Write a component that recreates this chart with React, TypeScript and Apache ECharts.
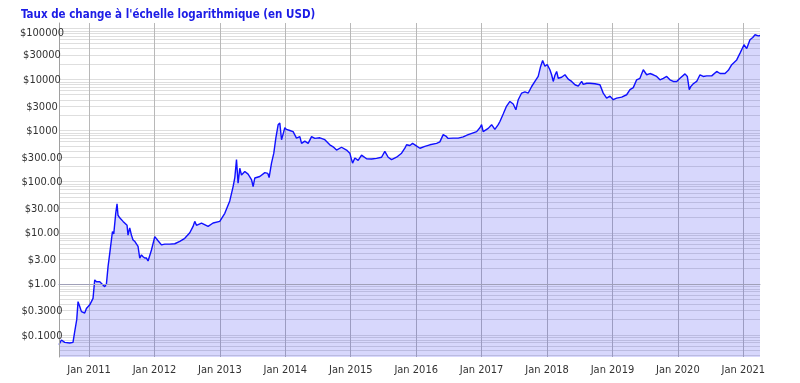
import React, { useEffect, useRef } from "react";
import * as echarts from "echarts";

// Dates as decimal years, prices in USD
const years = [
  2010.541, 2010.552, 2010.578, 2010.628, 2010.705, 2010.755, 2010.781, 2010.812, 2010.832, 2010.858,
  2010.884, 2010.934, 2010.960, 2011.011, 2011.061, 2011.087, 2011.113, 2011.164, 2011.240, 2011.266,
  2011.291, 2011.317, 2011.358, 2011.378, 2011.408, 2011.428, 2011.443, 2011.469, 2011.520, 2011.581,
  2011.596, 2011.622, 2011.648, 2011.673, 2011.699, 2011.749, 2011.775, 2011.801, 2011.826, 2011.852,
  2011.878, 2011.902, 2011.954, 2012.005, 2012.055, 2012.107, 2012.158, 2012.234, 2012.310, 2012.387,
  2012.463, 2012.540, 2012.590, 2012.616, 2012.642, 2012.719, 2012.820, 2012.896, 2012.998, 2013.075,
  2013.151, 2013.202, 2013.228, 2013.254, 2013.278, 2013.304, 2013.330, 2013.381, 2013.431, 2013.483,
  2013.508, 2013.534, 2013.610, 2013.687, 2013.732, 2013.752, 2013.789, 2013.824, 2013.855, 2013.890,
  2013.916, 2013.942, 2013.966, 2013.992, 2014.018, 2014.069, 2014.119, 2014.171, 2014.222, 2014.248,
  2014.298, 2014.349, 2014.401, 2014.451, 2014.528, 2014.604, 2014.680, 2014.731, 2014.783, 2014.859,
  2014.936, 2014.986, 2015.012, 2015.028, 2015.063, 2015.113, 2015.165, 2015.242, 2015.318, 2015.394,
  2015.471, 2015.521, 2015.572, 2015.624, 2015.700, 2015.777, 2015.827, 2015.853, 2015.904, 2015.945,
  2015.980, 2016.057, 2016.133, 2016.209, 2016.312, 2016.362, 2016.413, 2016.454, 2016.489, 2016.566,
  2016.642, 2016.719, 2016.795, 2016.872, 2016.924, 2016.974, 2017.000, 2017.024, 2017.101, 2017.153,
  2017.203, 2017.254, 2017.280, 2017.330, 2017.382, 2017.433, 2017.483, 2017.524, 2017.560, 2017.612,
  2017.662, 2017.713, 2017.765, 2017.815, 2017.865, 2017.902, 2017.933, 2017.968, 2018.003, 2018.044,
  2018.070, 2018.095, 2018.121, 2018.147, 2018.171, 2018.223, 2018.274, 2018.324, 2018.376, 2018.427,
  2018.477, 2018.529, 2018.554, 2018.606, 2018.656, 2018.732, 2018.809, 2018.859, 2018.911, 2018.962,
  2019.012, 2019.064, 2019.141, 2019.217, 2019.268, 2019.318, 2019.370, 2019.420, 2019.471, 2019.523,
  2019.573, 2019.624, 2019.676, 2019.726, 2019.777, 2019.829, 2019.879, 2019.930, 2019.982, 2020.032,
  2020.109, 2020.144, 2020.174, 2020.196, 2020.235, 2020.287, 2020.338, 2020.388, 2020.440, 2020.517,
  2020.593, 2020.644, 2020.720, 2020.771, 2020.823, 2020.899, 2020.950, 2021.011, 2021.052, 2021.102,
  2021.144, 2021.179, 2021.229, 2021.255,
];

const prices = [
  0.065, 0.069, 0.080, 0.072, 0.070, 0.072, 0.117, 0.2, 0.45, 0.36,
  0.287, 0.27, 0.33, 0.39, 0.52, 1.2, 1.1, 1.1, 0.88, 1.0,
  2.2, 4, 10.6, 9.5, 24, 36.8, 22, 19.6, 16.7, 14,
  9, 12.5, 9, 7.2, 6.8, 5.4, 3.2, 3.7, 3.4, 3.2,
  3.2, 2.8, 4.6, 8.4, 7.0, 5.8, 6.0, 6.0, 6.1, 6.8,
  7.8, 10, 13.3, 16.7, 14.0, 15.5, 13.3, 15.5, 16.7, 24,
  42, 80, 120, 270, 93, 183, 135, 158, 140, 110,
  80, 118, 126, 150, 145, 120, 231, 360, 710, 1290,
  1400, 660, 850, 1130, 1050, 1000, 950, 710, 760, 560,
  620, 560, 760, 700, 720, 660, 525, 480, 415, 470,
  415, 360, 270, 230, 290, 260, 330, 280, 277, 285,
  300, 390, 300, 270, 300, 360, 450, 525, 510, 560,
  525, 450, 490, 525, 560, 600, 830, 780, 700, 710,
  710, 750, 830, 900, 950, 1130, 1300, 950, 1100, 1300,
  1050, 1300, 1500, 2100, 3000, 3700, 3300, 2540, 4000, 5400,
  5700, 5400, 7250, 9100, 11400, 17900, 23400, 18000, 19500, 15400,
  12300, 9100, 12000, 14300, 10500, 11000, 12300, 10100, 9100, 7850,
  7400, 9100, 8000, 8400, 8400, 8200, 7850, 5380, 4300, 4700,
  4000, 4300, 4500, 5000, 6300, 6900, 9800, 10500, 15400, 12300,
  13000, 12300, 11400, 9800, 10500, 11400, 9800, 9100, 9100, 10500,
  12800, 11400, 6300, 7200, 8200, 9100, 12300, 11400, 11700, 11700,
  14300, 13000, 13000, 15000, 19400, 24000, 32600, 47500, 40000, 59600,
  66000, 74500, 71000, 72000,
];

const yTickPrices = [0.1, 0.3, 1, 3, 10, 30, 100, 300, 1000, 3000, 10000, 30000, 100000];
const xTickYears = [2011, 2012, 2013, 2014, 2015, 2016, 2017, 2018, 2019, 2020, 2021];
const gridMultiples = [1, 2, 3, 4, 5, 6, 7, 8, 9];
const gridDecades = [-2, -1, 0, 1, 2, 3, 4, 5];

const TITLE = "Taux de change à l'échelle logarithmique (en USD)";
const FONT = "'DejaVu Sans Condensed', 'Liberation Sans', sans-serif";

const Y_MIN = Math.log10(0.0372);
const Y_MAX = Math.log10(126500);
const X_MIN = 2010.541;
const X_MAX = 2021.255;

function fmtPrice(v: number): string {
  const p = Math.pow(10, v);
  if (p >= 99999) return "{top|$" + Math.round(p) + "}";
  if (p >= 999) return "$" + Math.round(p);
  if (p >= 0.999) return "$" + (Math.round(p * 100) / 100).toFixed(2);
  return "$" + (Math.round(p * 10000) / 10000).toFixed(4);
}

export default function App() {
  const ref = useRef<HTMLDivElement>(null);
  useEffect(() => {
    if (!ref.current) return;
    const chart = echarts.init(ref.current, undefined, { renderer: "svg" });
    const data = years.map((y, i) => [y, Math.log10(prices[i])]);

    const hLines: any[] = [];
    gridDecades.forEach((d) =>
      gridMultiples.forEach((m) => {
        const v = Math.log10(m * Math.pow(10, d));
        if (v > Y_MIN && v < Y_MAX) hLines.push({ yAxis: v });
      })
    );
    const vLines = xTickYears.map((y) => ({ xAxis: y }));

    chart.setOption({
      animation: false,
      title: {
        text: TITLE,
        left: 21,
        top: 8,
        padding: 0,
        textStyle: { color: "#1c1ce6", fontSize: 11.5, fontWeight: "bold", fontFamily: FONT },
      },
      grid: { left: 59, right: 40, top: 23, bottom: 26, containLabel: false },
      xAxis: {
        type: "value",
        min: X_MIN,
        max: X_MAX,
        z: 4,
        axisLine: { show: true, lineStyle: { color: "#a0a0b8" } },
        axisTick: { show: false },
        splitLine: { show: false },
        axisLabel: {
          customValues: xTickYears,
          formatter: (v: number) => "Jan " + Math.round(v),
          color: "#333",
          fontSize: 11,
          fontFamily: FONT,
          margin: 7,
        },
      },
      yAxis: {
        type: "value",
        min: Y_MIN,
        max: Y_MAX,
        z: 4,
        axisLine: { show: true, lineStyle: { color: "#a0a0a0" } },
        axisTick: { show: false },
        splitLine: { show: false },
        axisLabel: {
          customValues: yTickPrices.map((p) => Math.log10(p)),
          formatter: fmtPrice,
          color: "#333",
          fontSize: 11,
          fontFamily: FONT,
          align: "center",
          margin: 17,
          rich: {
            top: {
              color: "#333",
              fontSize: 11,
              fontFamily: FONT,
              padding: [8, 0, 0, 0],
            },
          },
        },
      },
      series: [
        {
          type: "line",
          z: 1,
          silent: true,
          data: data,
          showSymbol: false,
          lineStyle: { opacity: 0 },
          markLine: {
            z: 1,
            silent: true,
            symbol: "none",
            label: { show: false },
            lineStyle: { color: "#dedede", type: "solid", width: 1 },
            emphasis: { disabled: true },
            data: hLines,
          },
        },
        {
          type: "line",
          z: 1,
          silent: true,
          data: data,
          showSymbol: false,
          lineStyle: { opacity: 0 },
          markLine: {
            z: 1,
            silent: true,
            symbol: "none",
            label: { show: false },
            lineStyle: { color: "#b8b8b8", type: "solid", width: 1 },
            emphasis: { disabled: true },
            data: vLines,
          },
        },
        {
          type: "line",
          z: 3,
          data: data,
          showSymbol: false,
          symbol: "none",
          lineStyle: { color: "#1010ff", width: 1.4 },
          areaStyle: { color: "rgba(20,20,235,0.17)", opacity: 1, origin: "start" },
        },
      ],
    });
    return () => chart.dispose();
  }, []);
  return (
    <div
      ref={ref}
      style={{ position: "fixed", left: 0, top: 0, width: 800, height: 383 }}
    />
  );
}
